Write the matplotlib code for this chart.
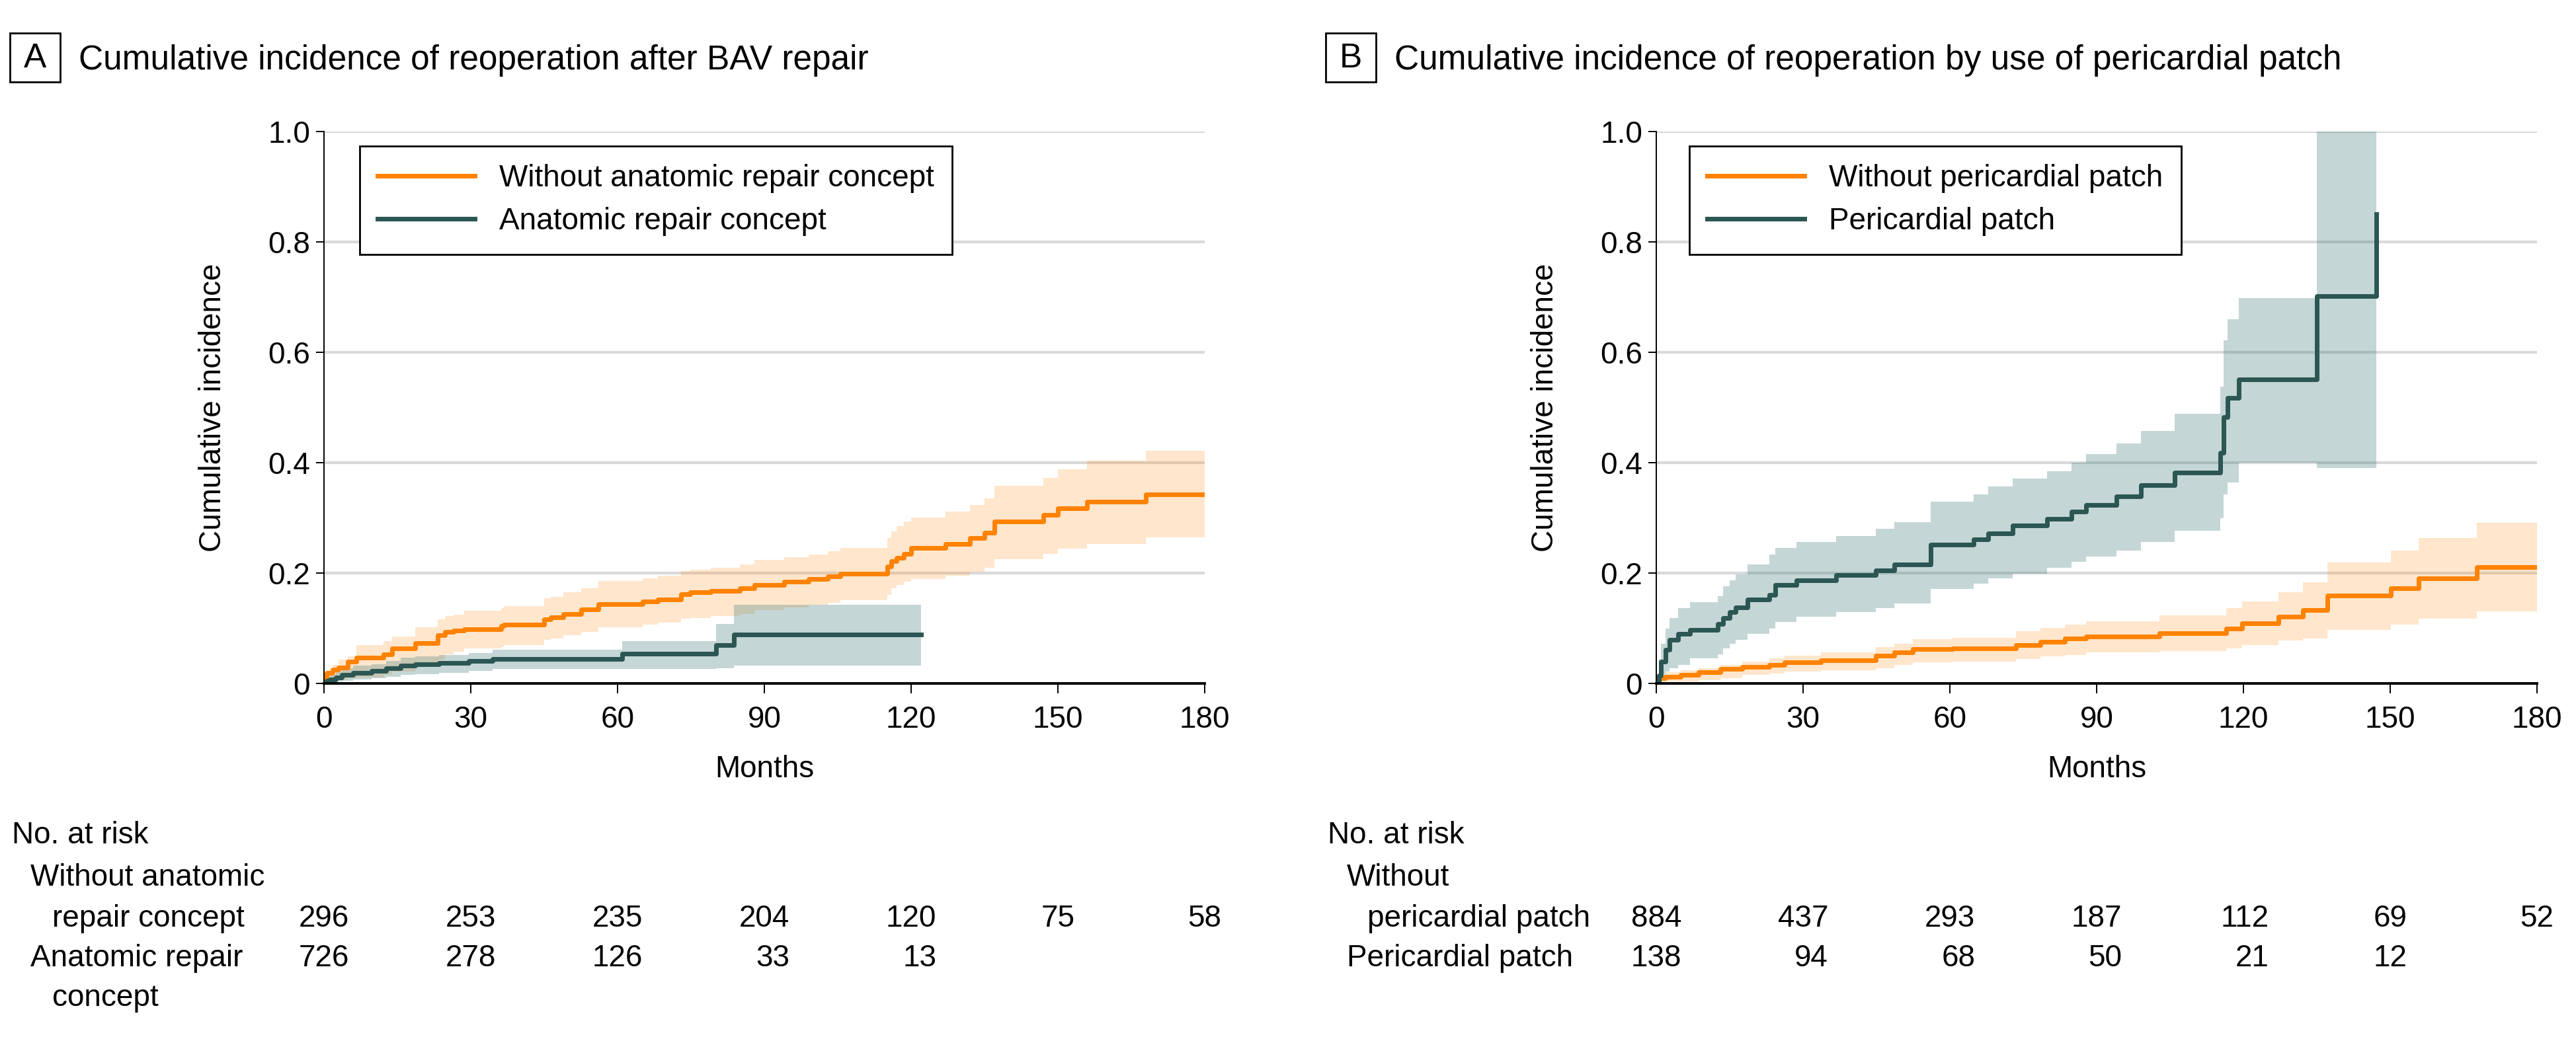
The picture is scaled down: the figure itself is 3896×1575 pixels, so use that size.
import matplotlib
matplotlib.use('Agg')
import matplotlib.pyplot as plt
from matplotlib.transforms import blended_transform_factory, ScaledTranslation
from matplotlib.patches import Rectangle

plt.rcParams['font.family'] = ['Liberation Sans', 'DejaVu Sans']

# ---------------- data ----------------
# Panel A: without anatomic repair concept
tA_no = [0, 0.6, 1.8, 3, 4.8, 6.6, 12.1, 13.9, 18.7, 23.3, 24.7, 26.5, 28.7, 36.2, 36.8, 45, 46.4, 48.9,
         52.5, 56.1, 65.1, 68.2, 73, 74.8, 79, 85, 88, 94, 99, 103, 105.6, 115.2, 116, 117, 118.5, 120,
         127, 132, 135, 137, 147, 150, 156, 168, 180]
yA_no = [0, 0.019, 0.025, 0.029, 0.039, 0.047, 0.053, 0.063, 0.073, 0.087, 0.093, 0.096, 0.098, 0.104,
         0.106, 0.116, 0.120, 0.126, 0.134, 0.144, 0.148, 0.152, 0.162, 0.165, 0.168, 0.172, 0.179, 0.184,
         0.189, 0.194, 0.199, 0.212, 0.222, 0.228, 0.235, 0.245, 0.253, 0.263, 0.273, 0.293, 0.305, 0.317,
         0.329, 0.343, 0.343]
hiA_no = [0, 0.021, 0.033, 0.043, 0.049, 0.069, 0.077, 0.085, 0.102, 0.116, 0.122, 0.124, 0.132, 0.136,
          0.140, 0.154, 0.157, 0.165, 0.173, 0.186, 0.190, 0.195, 0.204, 0.206, 0.210, 0.215, 0.224, 0.229,
          0.234, 0.240, 0.246, 0.263, 0.275, 0.285, 0.293, 0.301, 0.311, 0.323, 0.335, 0.358, 0.372, 0.388,
          0.403, 0.422, 0.422]
loA_no = [0, 0.003, 0.005, 0.007, 0.009, 0.011, 0.015, 0.021, 0.030, 0.043, 0.053, 0.057, 0.064, 0.066,
          0.069, 0.079, 0.082, 0.088, 0.093, 0.102, 0.106, 0.110, 0.117, 0.119, 0.122, 0.126, 0.133, 0.138,
          0.142, 0.146, 0.151, 0.160, 0.172, 0.178, 0.184, 0.189, 0.195, 0.202, 0.210, 0.225, 0.235, 0.244,
          0.253, 0.265, 0.265]

# Panel A: anatomic repair concept
tA_an = [0, 0.6, 1.2, 2.4, 3.6, 6, 9.7, 12.7, 15.7, 18.7, 23.5, 29.6, 34.4, 61, 80.2, 83.8, 122]
yA_an = [0, 0.005, 0.007, 0.011, 0.015, 0.019, 0.023, 0.027, 0.032, 0.035, 0.037, 0.041, 0.044, 0.054,
         0.069, 0.089, 0.089]
hiA_an = [0, 0.011, 0.015, 0.021, 0.027, 0.032, 0.035, 0.041, 0.047, 0.049, 0.051, 0.055, 0.061, 0.077,
          0.108, 0.143, 0.143]
loA_an = [0, 0.001, 0.002, 0.003, 0.005, 0.007, 0.009, 0.012, 0.015, 0.017, 0.019, 0.023, 0.026, 0.026,
          0.027, 0.032, 0.032]

# Panel B: without pericardial patch
tB_no = [0, 0.6, 1.9, 5, 8.7, 13.1, 17.5, 23.1, 26.2, 33.7, 44.9, 48.6, 52.4, 60.5, 73.5, 78.5, 83.5,
         87.9, 102.8, 116.5, 119.7, 127.1, 132.1, 137.1, 150.2, 155.8, 167.7, 180]
yB_no = [0, 0.010, 0.012, 0.016, 0.020, 0.026, 0.030, 0.034, 0.038, 0.042, 0.050, 0.056, 0.062, 0.064,
         0.070, 0.076, 0.081, 0.085, 0.091, 0.099, 0.109, 0.121, 0.133, 0.159, 0.173, 0.190, 0.211, 0.211]
hiB_no = [0, 0.016, 0.020, 0.024, 0.028, 0.034, 0.040, 0.045, 0.050, 0.056, 0.066, 0.072, 0.080, 0.083,
          0.095, 0.101, 0.107, 0.113, 0.123, 0.136, 0.149, 0.165, 0.183, 0.219, 0.241, 0.264, 0.291, 0.291]
loB_no = [0, 0.002, 0.003, 0.004, 0.006, 0.010, 0.015, 0.018, 0.022, 0.024, 0.028, 0.033, 0.038, 0.040,
          0.044, 0.049, 0.052, 0.056, 0.059, 0.064, 0.070, 0.078, 0.082, 0.097, 0.107, 0.117, 0.130, 0.130]

# Panel B: pericardial patch
tB_pp = [0, 0.6, 1.0, 1.9, 2.7, 4.4, 6.9, 12.5, 13.7, 15, 16.2, 18.7, 23.1, 24.3, 28.7, 36.8, 44.9, 48.6,
         56.1, 64.8, 67.9, 72.9, 79.8, 84.8, 87.9, 94.1, 99.1, 106, 115.3, 115.9, 116.8, 119, 135, 147.1]
yB_pp = [0, 0.014, 0.039, 0.061, 0.079, 0.090, 0.097, 0.108, 0.118, 0.129, 0.138, 0.152, 0.160, 0.178,
         0.187, 0.196, 0.205, 0.216, 0.251, 0.261, 0.272, 0.286, 0.298, 0.311, 0.323, 0.339, 0.359, 0.382,
         0.418, 0.483, 0.517, 0.551, 0.702, 0.850]
hiB_pp = [0, 0.043, 0.072, 0.100, 0.118, 0.137, 0.147, 0.158, 0.176, 0.187, 0.198, 0.215, 0.234, 0.245,
          0.256, 0.267, 0.280, 0.292, 0.329, 0.342, 0.357, 0.371, 0.384, 0.400, 0.416, 0.435, 0.458, 0.489,
          0.538, 0.621, 0.660, 0.698, 1.000, 1.000]
loB_pp = [0, 0.003, 0.014, 0.021, 0.028, 0.034, 0.046, 0.053, 0.064, 0.072, 0.079, 0.090, 0.100, 0.111,
          0.121, 0.129, 0.137, 0.145, 0.171, 0.181, 0.191, 0.199, 0.209, 0.220, 0.230, 0.241, 0.256, 0.277,
          0.299, 0.342, 0.364, 0.400, 0.390, 0.390]

x_ticks = [0, 30, 60, 90, 120, 150, 180]
y_ticks = [0, 0.2, 0.4, 0.6, 0.8, 1.0]
y_ticklabels = ['0', '0.2', '0.4', '0.6', '0.8', '1.0']

risk_A_no = [296, 253, 235, 204, 120, 75, 58]
risk_A_an = [726, 278, 126, 33, 13]
risk_B_no = [884, 437, 293, 187, 112, 69, 52]
risk_B_pp = [138, 94, 68, 50, 21, 12]

titles = ['Cumulative incidence of reoperation after BAV repair',
          'Cumulative incidence of reoperation by use of pericardial patch']
legend_A = ['Without anatomic repair concept', 'Anatomic repair concept']
legend_B = ['Without pericardial patch', 'Pericardial patch']

# ---------------- style ----------------
ORANGE = '#FF8200'
TEAL = '#2B5653'
TEAL_BAND = '#3D7A77'
W, H, DPI = 3896, 1575, 200
FS = 16.5
FS_T = 18.5

fig = plt.figure(figsize=(W / DPI, H / DPI), dpi=DPI)


def fx(px):
    return px / W


def fy(py):
    return 1 - py / H


def make_axes(left_px):
    ax = fig.add_axes([fx(left_px), fy(1034), (1822 - 490) / W, (1034 - 199) / H])
    ax.set_xlim(0, 180)
    ax.set_ylim(0, 1.0)
    ax.set_xticks(x_ticks)
    ax.set_yticks(y_ticks)
    ax.set_yticklabels(y_ticklabels)
    for s in ['top', 'right']:
        ax.spines[s].set_visible(False)
    ax.spines['left'].set_linewidth(0.7)
    ax.spines['bottom'].set_linewidth(1.4)
    ax.spines['bottom'].set_zorder(5)
    ax.tick_params(axis='x', direction='out', length=5.4, width=0.7, pad=6.5, labelsize=FS)
    ax.tick_params(axis='y', direction='out', length=4.5, width=0.7, pad=3, labelsize=FS)
    ax.yaxis.grid(True, color='#D9D9D9', lw=1.5, zorder=0)
    ax.set_axisbelow(True)
    ax.set_ylabel('Cumulative incidence', fontsize=FS, labelpad=22)
    ax.set_xlabel('Months', fontsize=FS, labelpad=11)
    return ax


def draw_curve(ax, t, y, lo, hi, color, band, alpha, label):
    ax.fill_between(t, lo, hi, step='post', color=band, alpha=alpha, lw=0, zorder=1)
    ax.step(t, y, where='post', color=color, lw=2.5, label=label, zorder=3)


def panel_title(x0, letter, text):
    fig.patches.append(Rectangle((fx(x0 + 15), fy(124)), 76 / W, 74 / H, transform=fig.transFigure,
                                 fill=False, edgecolor='black', lw=1.0))
    fig.text(fx(x0 + 53), fy(88), letter, ha='center', va='center', fontsize=FS_T)
    fig.text(fx(x0 + 119), fy(105), text, ha='left', va='baseline', fontsize=FS_T)


def risk_row_cols(ax, rows, pys):
    # each column centered on its tick; numbers right-aligned within the column
    trans = blended_transform_factory(ax.transData, fig.transFigure)
    for i, xt in enumerate(x_ticks):
        col = [r[i] for r in rows if i < len(r)]
        if not col:
            continue
        nd = max(len(str(v)) for v in col)
        dx = nd * 0.556 * FS / 2 / 72
        for r, py in zip(rows, pys):
            if i < len(r):
                ax.text(xt, fy(py), str(r[i]), ha='right', va='baseline', fontsize=FS,
                        transform=trans + ScaledTranslation(dx, 0, fig.dpi_scale_trans), clip_on=False)


def add_legend(ax, x0):
    leg = ax.legend(loc='upper left', bbox_to_anchor=(x0, 0.9737), borderaxespad=0, fontsize=FS,
                    frameon=True, fancybox=False, edgecolor='black', framealpha=1, handlelength=3.2,
                    borderpad=0.6, labelspacing=0.45, handletextpad=0.8)
    leg.get_frame().set_linewidth(1.0)
    return leg


# ---------------- panel A ----------------
axA = make_axes(490)
draw_curve(axA, tA_no, yA_no, loA_no, hiA_no, ORANGE, ORANGE, 0.2, legend_A[0])
draw_curve(axA, tA_an, yA_an, loA_an, hiA_an, TEAL, TEAL_BAND, 0.3, legend_A[1])
add_legend(axA, 0.0405)
panel_title(0, 'A', titles[0])

fig.text(fx(18), fy(1276), 'No. at risk', fontsize=FS, va='baseline')
fig.text(fx(46), fy(1340), 'Without anatomic', fontsize=FS, va='baseline')
fig.text(fx(79), fy(1402), 'repair concept', fontsize=FS, va='baseline')
fig.text(fx(46), fy(1462), 'Anatomic repair', fontsize=FS, va='baseline')
fig.text(fx(79), fy(1522), 'concept', fontsize=FS, va='baseline')
risk_row_cols(axA, [risk_A_no, risk_A_an], [1402, 1462])

# ---------------- panel B ----------------
axB = make_axes(2505)
draw_curve(axB, tB_no, yB_no, loB_no, hiB_no, ORANGE, ORANGE, 0.2, legend_B[0])
draw_curve(axB, tB_pp, yB_pp, loB_pp, hiB_pp, TEAL, TEAL_BAND, 0.3, legend_B[1])
add_legend(axB, 0.0375)
panel_title(1990, 'B', titles[1])

fig.text(fx(2008), fy(1276), 'No. at risk', fontsize=FS, va='baseline')
fig.text(fx(2037), fy(1340), 'Without', fontsize=FS, va='baseline')
fig.text(fx(2068), fy(1402), 'pericardial patch', fontsize=FS, va='baseline')
fig.text(fx(2037), fy(1462), 'Pericardial patch', fontsize=FS, va='baseline')
risk_row_cols(axB, [risk_B_no, risk_B_pp], [1402, 1462])

fig.savefig('out.png', dpi=DPI, facecolor='white')
